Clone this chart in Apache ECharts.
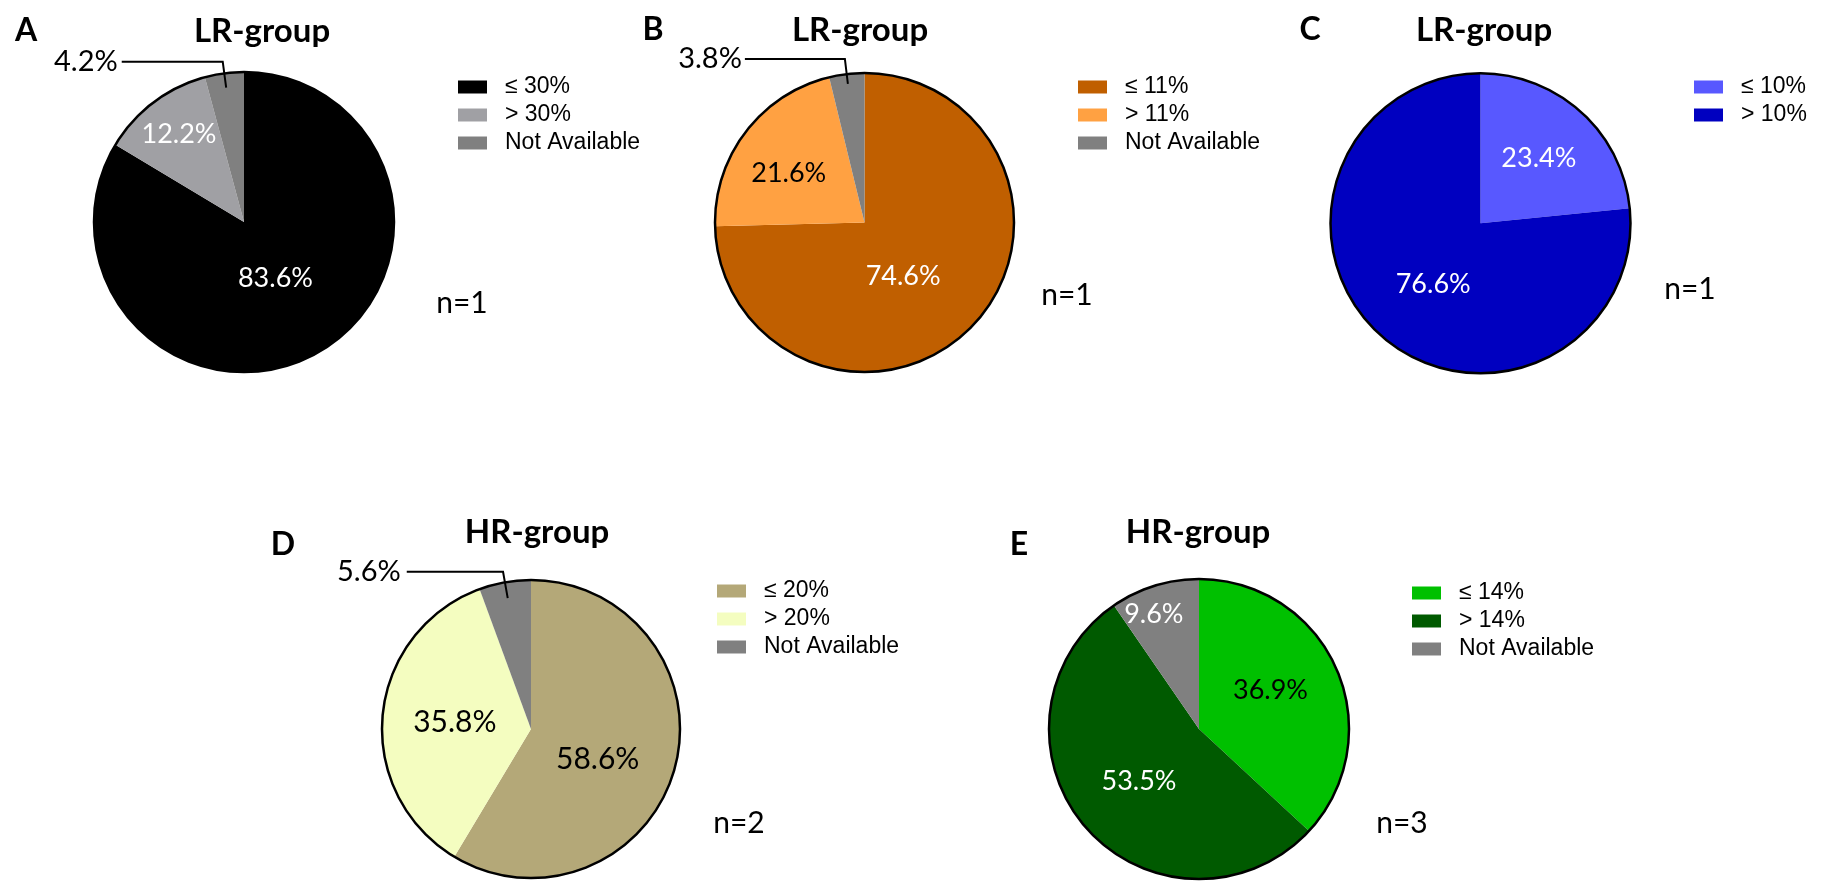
<!DOCTYPE html>
<html><head><meta charset="utf-8">
<script src="https://cdn.jsdelivr.net/npm/echarts@6.0.0/dist/echarts.min.js"></script>
<style>html,body{margin:0;padding:0;background:#fff}#c{width:1826px;height:893px}</style>
</head><body><div id="c"></div>
<script>
// ---- data ----
const panelLetters = ['A', 'B', 'C', 'D', 'E'];
const panelTitles = ['LR-group', 'LR-group', 'LR-group', 'HR-group', 'HR-group'];
const sampleLabels = ['n=1', 'n=1', 'n=1', 'n=2', 'n=3'];
const catsA = ['≤ 30%', '> 30%', 'Not Available'];
const valsA = [83.6, 12.2, 4.2];
const catsB = ['≤ 11%', '> 11%', 'Not Available'];
const valsB = [74.6, 21.6, 3.8];
const catsC = ['≤ 10%', '> 10%'];
const valsC = [23.4, 76.6];
const catsD = ['≤ 20%', '> 20%', 'Not Available'];
const valsD = [58.6, 35.8, 5.6];
const catsE = ['≤ 14%', '> 14%', 'Not Available'];
const valsE = [36.9, 53.5, 9.6];

// ---- layout / style ----
const panels = [
  {cats: catsA, vals: valsA, colors: ['#000000', '#a0a0a4', '#808080'], txt: ['#fff', '#fff', '#000'], out: [false, false, true],
   shift: [[-7, -12], [-18, -25], [0, 0]], fs: 27,
   center: [244, 222], r: 150, lineR: 135.5, line: [26.2, 101, 4],
   letter: [26, 31], title: [262, 31], n: [462, 303], legend: [458, 73]},
  {cats: catsB, vals: valsB, colors: ['#c05f00', '#ffa142', '#808080'], txt: ['#fff', '#000', '#000'], out: [false, false, true],
   shift: [[-17, 0], [-14, -2], [0, 0]], fs: 27,
   center: [864.5, 222.5], r: 149.5, lineR: 139.5, line: [25.2, 100, 3],
   letter: [653, 30], title: [860, 30], n: [1067, 295], legend: [1078, 73]},
  {cats: catsC, vals: valsC, colors: ['#5858ff', '#0000c0'], txt: ['#fff', '#fff'], out: [false, false],
   shift: [[6, -7], [5, 3]], fs: 27,
   center: [1480.5, 223.3], r: 150, lineR: 140, line: [12, 100, 3],
   letter: [1310, 30], title: [1484, 30], n: [1690, 289], legend: [1694, 73]},
  {cats: catsD, vals: valsD, colors: ['#b4a878', '#f4fdc0', '#808080'], txt: ['#000', '#000', '#000'], out: [false, false, true],
   shift: [[-8, 10], [1, 1], [0, 0]], fs: 30,
   center: [531, 729], r: 149, lineR: 133, line: [26.7, 96.3, 6],
   letter: [283, 545], title: [537, 532], n: [739, 823], legend: [717, 577]},
  {cats: catsE, vals: valsE, colors: ['#00c000', '#005a00', '#808080'], txt: ['#000', '#fff', '#fff'], out: [false, false, false],
   shift: [[0, -8], [-1, 1], [-22, -40]], fs: 27,
   center: [1199, 729], r: 150, lineR: 140, line: [12, 100, 3],
   letter: [1019, 545], title: [1198, 532], n: [1402, 823], legend: [1412, 579]}
];

const fmt = (d) => d.value.toFixed(1) + '%';
const titles = [];
const legends = [];
const series = [];
panels.forEach((p, k) => {
  titles.push({text: panelLetters[k], left: p.letter[0], top: p.letter[1], padding: 0, textAlign: 'center', textVerticalAlign: 'middle',
    textStyle: {fontFamily: 'Lato', fontWeight: 'bold', fontSize: 32, color: '#000'}});
  titles.push({text: panelTitles[k], left: p.title[0], top: p.title[1], padding: 0, textAlign: 'center', textVerticalAlign: 'middle',
    textStyle: {fontFamily: 'Lato', fontWeight: 'bold', fontSize: 33, color: '#000'}});
  titles.push({text: sampleLabels[k], left: p.n[0], top: p.n[1], padding: 0, textAlign: 'center', textVerticalAlign: 'middle',
    textStyle: {fontFamily: 'Lato', fontWeight: 'normal', fontSize: 30, color: '#000'}});
  legends.push({data: p.cats, left: p.legend[0], top: p.legend[1], orient: 'vertical', itemWidth: 29, itemHeight: 13,
    itemGap: 0, padding: 0, icon: 'rect', selectedMode: false,
    textStyle: {fontFamily: 'Liberation Sans', fontSize: 23, color: '#000', lineHeight: 28, padding: [0, 0, 0, 13]}});
  // filled slices with inside labels
  series.push({
    type: 'pie', center: p.center, radius: p.r, startAngle: 90, clockwise: true, avoidLabelOverlap: false,
    silent: true, animation: false, minShowLabelAngle: 0,
    itemStyle: {borderWidth: 0},
    label: {show: true, position: 'inside', fontFamily: 'Lato', fontSize: p.fs, formatter: fmt},
    labelLine: {show: false},
    labelLayout: (prm) => ({dx: p.shift[prm.dataIndex][0], dy: p.shift[prm.dataIndex][1]}),
    emphasis: {disabled: true},
    data: p.cats.map((name, i) => ({
      name: name, value: p.vals[i],
      itemStyle: {color: p.colors[i]},
      label: {show: !p.out[i], color: p.txt[i]}
    }))
  });
  // transparent carrier for outside labels with leader lines starting inside the slice
  series.push({
    type: 'pie', center: p.center, radius: p.lineR, startAngle: 90, clockwise: true, avoidLabelOverlap: false,
    silent: true, animation: false, minShowLabelAngle: 0, z: 6,
    itemStyle: {color: 'rgba(0,0,0,0)', borderWidth: 0},
    label: {show: true, position: 'outside', fontFamily: 'Lato', fontSize: 29, color: '#000', formatter: fmt,
      distanceToLabelLine: p.line[2]},
    labelLine: {show: true, length: p.line[0], length2: p.line[1], smooth: false, lineStyle: {color: '#000', width: 2}},
    emphasis: {disabled: true},
    data: p.cats.map((name, i) => ({
      name: name, value: p.vals[i],
      label: {show: p.out[i]}, labelLine: {show: p.out[i]}
    }))
  });
  // circular outline
  series.push({
    type: 'pie', center: p.center, radius: p.r, silent: true, animation: false, z: 5,
    label: {show: false}, labelLine: {show: false}, emphasis: {disabled: true},
    itemStyle: {color: 'rgba(0,0,0,0)', borderColor: '#000', borderWidth: 2.5},
    data: [{value: 1, name: 'outline' + k}]
  });
});

const chart = echarts.init(document.getElementById('c'), null, {renderer: 'canvas'});
chart.setOption({backgroundColor: '#fff', animation: false, title: titles, legend: legends, series: series});
</script>
</body></html>
